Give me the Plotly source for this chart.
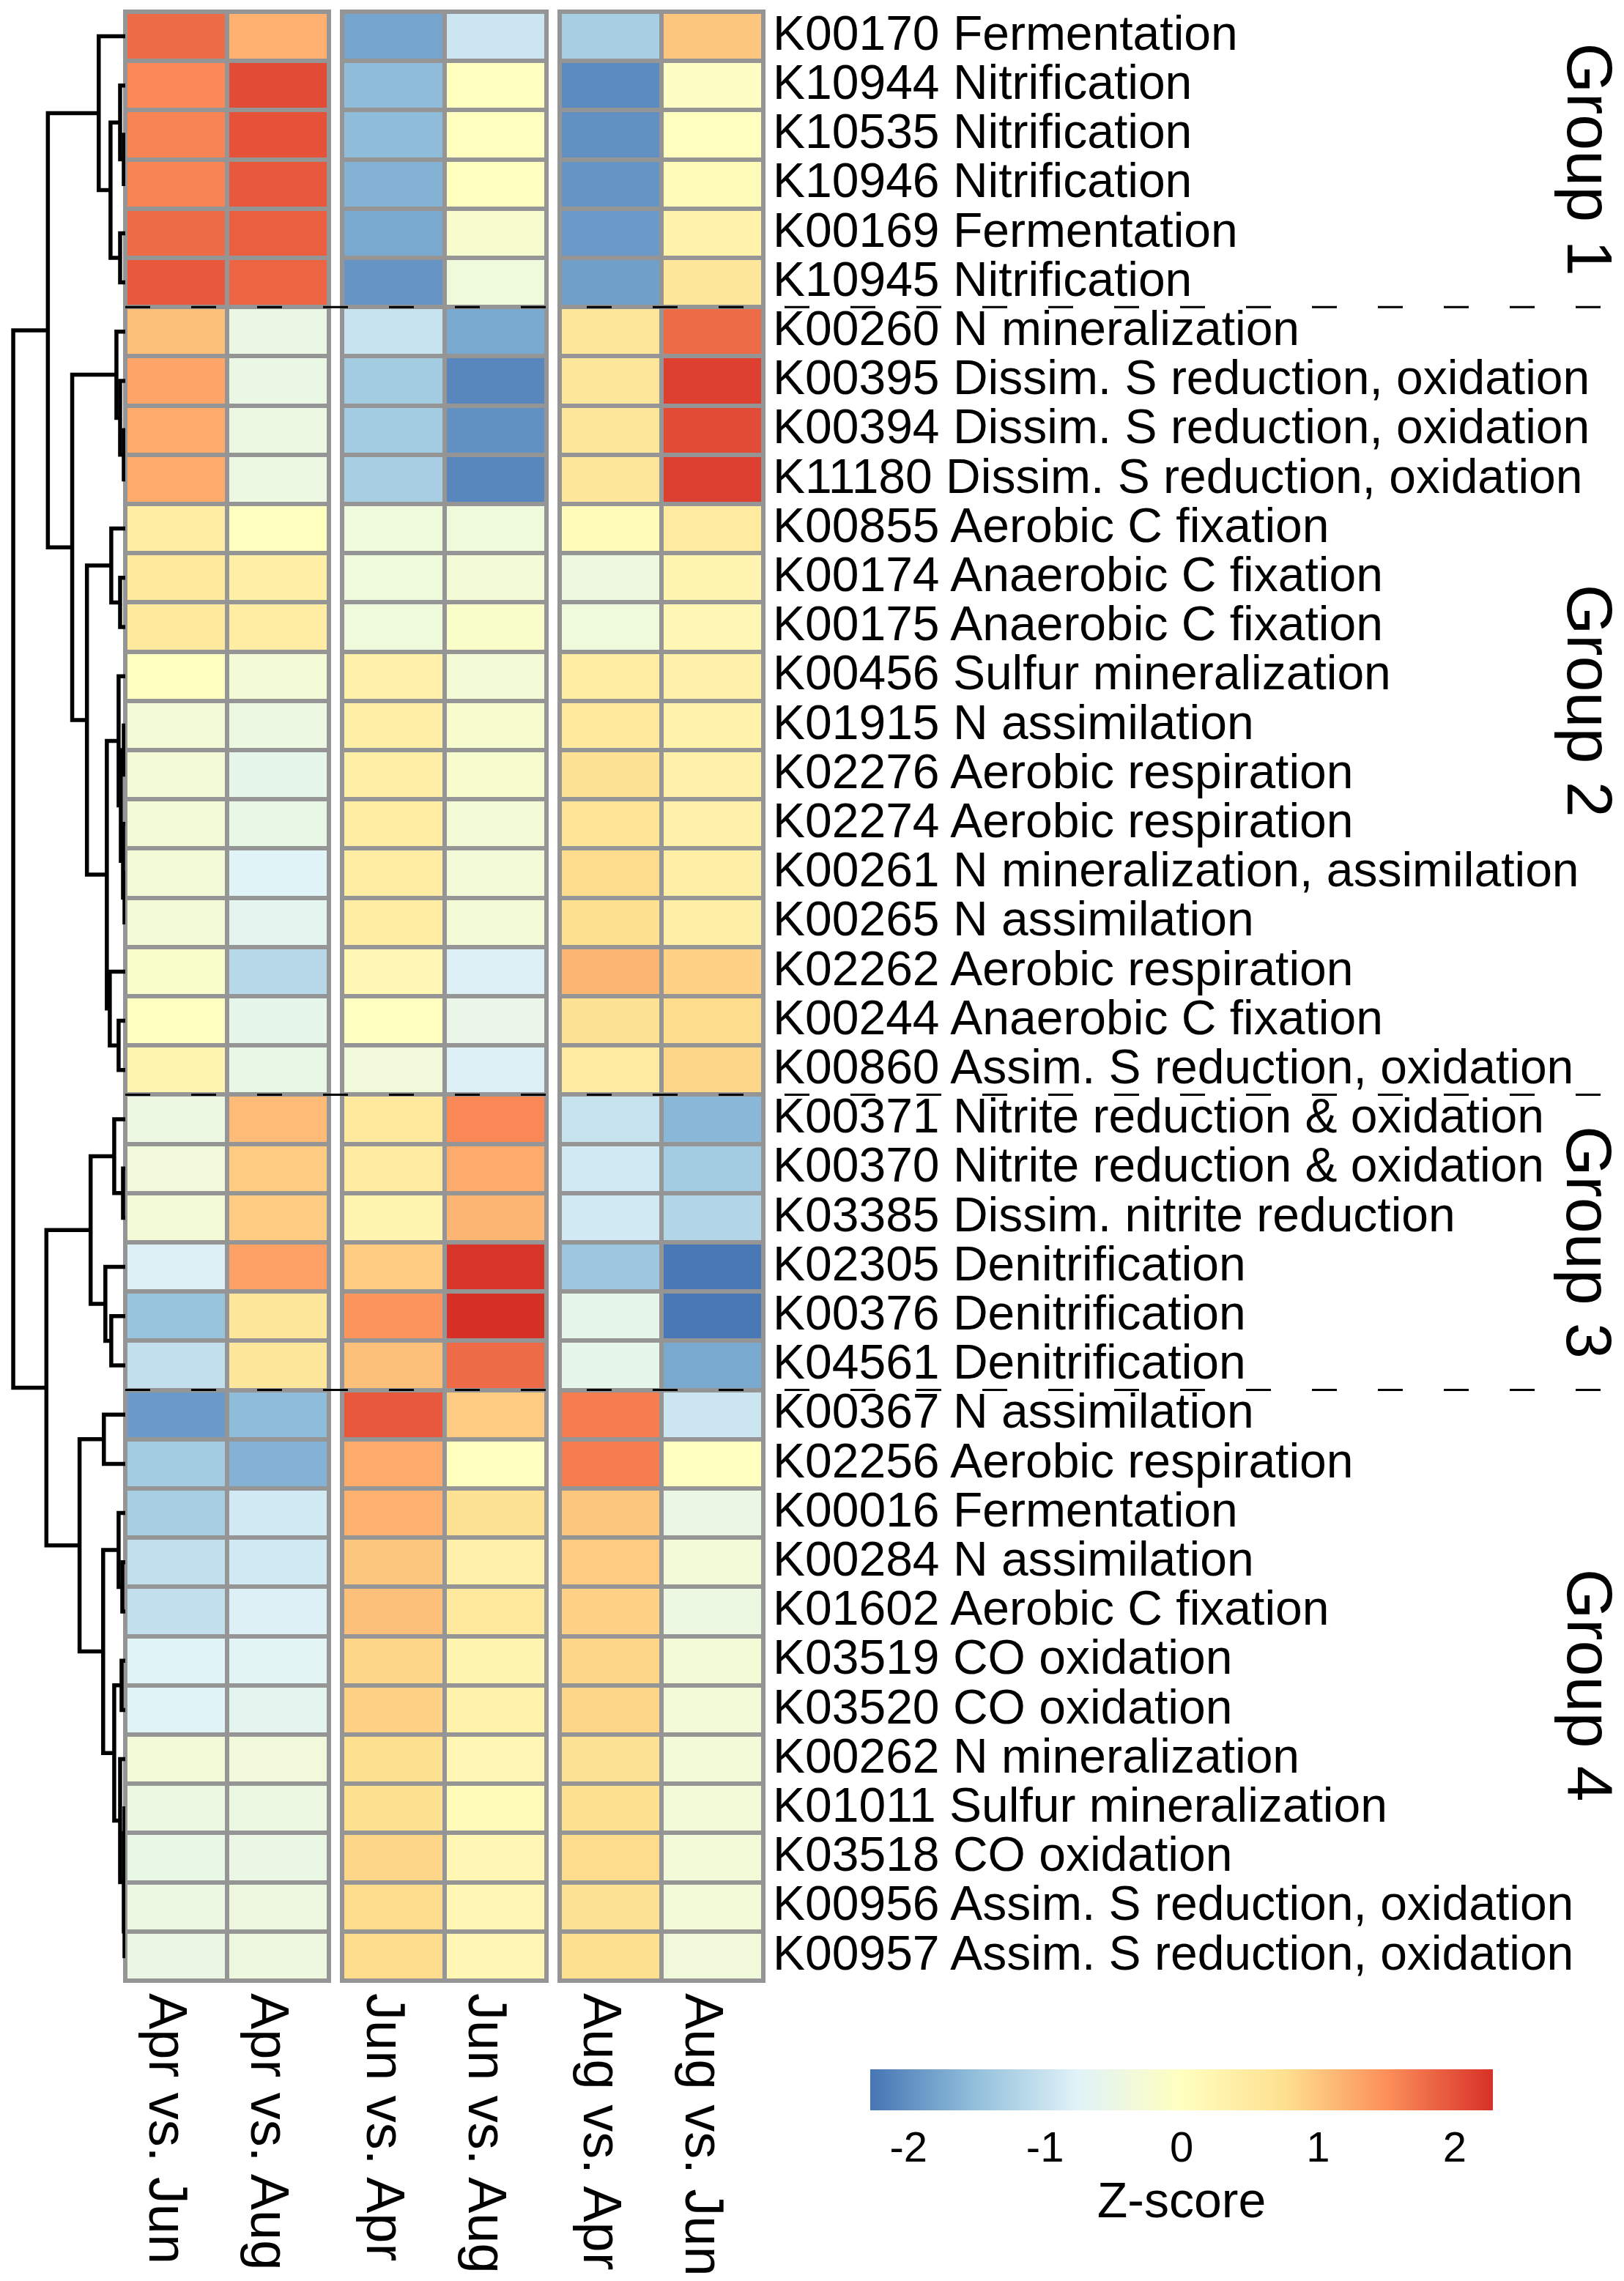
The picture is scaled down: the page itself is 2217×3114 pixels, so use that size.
import plotly.graph_objects as go

# ---------------- data ----------------
row_labels = [
    "K00170 Fermentation", "K10944 Nitrification", "K10535 Nitrification",
    "K10946 Nitrification", "K00169 Fermentation", "K10945 Nitrification",
    "K00260 N mineralization", "K00395 Dissim. S reduction, oxidation",
    "K00394 Dissim. S reduction, oxidation", "K11180 Dissim. S reduction, oxidation",
    "K00855 Aerobic C fixation", "K00174 Anaerobic C fixation",
    "K00175 Anaerobic C fixation", "K00456 Sulfur mineralization",
    "K01915 N assimilation", "K02276 Aerobic respiration", "K02274 Aerobic respiration",
    "K00261 N mineralization, assimilation", "K00265 N assimilation",
    "K02262 Aerobic respiration", "K00244 Anaerobic C fixation",
    "K00860 Assim. S reduction, oxidation",
    "K00371 Nitrite reduction & oxidation", "K00370 Nitrite reduction & oxidation",
    "K03385 Dissim. nitrite reduction", "K02305 Denitrification",
    "K00376 Denitrification", "K04561 Denitrification",
    "K00367 N assimilation", "K02256 Aerobic respiration", "K00016 Fermentation",
    "K00284 N assimilation", "K01602 Aerobic C fixation", "K03519 CO oxidation",
    "K03520 CO oxidation", "K00262 N mineralization", "K01011 Sulfur mineralization",
    "K03518 CO oxidation", "K00956 Assim. S reduction, oxidation",
    "K00957 Assim. S reduction, oxidation",
]

col_labels = ["Apr vs. Jun", "Apr vs. Aug", "Jun vs. Apr",
              "Jun vs. Aug", "Aug vs. Apr", "Aug vs. Jun"]

apr_vs_jun = [1.8, 1.55, 1.6, 1.6, 1.8, 1.95,
              1.05, 1.3, 1.25, 1.25, 0.45, 0.55, 0.55, 0.0, -0.3, -0.3, -0.3, -0.3, -0.3, -0.15, 0.0, 0.25,
              -0.47, -0.36, -0.3, -0.8, -1.45, -1.05,
              -1.9, -1.35, -1.3, -1.05, -1.05, -0.75, -0.75, -0.33, -0.47, -0.53, -0.47, -0.5]
apr_vs_aug = [1.2, 2.05, 2.0, 1.95, 1.9, 1.85,
              -0.5, -0.5, -0.47, -0.47, 0.0, 0.4, 0.45, -0.3, -0.47, -0.58, -0.53, -0.75, -0.65, -1.15, -0.58, -0.53,
              1.1, 0.95, 0.95, 1.35, 0.6, 0.6,
              -1.55, -1.65, -0.9, -0.9, -0.8, -0.7, -0.65, -0.36, -0.47, -0.5, -0.43, -0.43]
jun_vs_apr = [-1.8, -1.55, -1.55, -1.65, -1.75, -1.95,
              -1.0, -1.35, -1.35, -1.3, -0.39, -0.39, -0.39, 0.35, 0.4, 0.4, 0.45, 0.45, 0.45, 0.2, 0.0, -0.36,
              0.55, 0.5, 0.25, 0.95, 1.45, 1.05,
              1.95, 1.25, 1.2, 1.0, 1.05, 0.85, 0.9, 0.75, 0.75, 0.85, 0.8, 0.8]
jun_vs_aug = [-0.95, 0.0, 0.0, 0.0, -0.2, -0.39,
              -1.75, -2.1, -2.0, -2.1, -0.39, -0.3, -0.15, -0.3, -0.2, -0.2, -0.3, -0.33, -0.3, -0.8, -0.55, -0.8,
              1.55, 1.25, 1.15, 2.25, 2.28, 1.8,
              0.95, 0.0, 0.7, 0.35, 0.55, 0.25, 0.3, 0.2, 0.08, 0.2, 0.2, 0.2]
aug_vs_apr = [-1.3, -2.05, -2.0, -1.95, -1.9, -1.85,
              0.6, 0.6, 0.6, 0.6, 0.08, -0.43, -0.39, 0.45, 0.55, 0.7, 0.65, 0.8, 0.75, 1.15, 0.7, 0.5,
              -1.0, -0.9, -0.9, -1.4, -0.58, -0.58,
              1.65, 1.65, 1.0, 0.95, 0.9, 0.85, 0.85, 0.7, 0.75, 0.8, 0.7, 0.75]
aug_vs_jun = [1.0, -0.05, 0.0, 0.08, 0.3, 0.6,
              1.8, 2.15, 2.05, 2.15, 0.5, 0.25, 0.2, 0.35, 0.3, 0.35, 0.35, 0.4, 0.4, 0.9, 0.8, 0.85,
              -1.6, -1.35, -1.2, -2.25, -2.25, -1.75,
              -0.95, 0.0, -0.5, -0.33, -0.47, -0.3, -0.33, -0.33, -0.33, -0.33, -0.33, -0.36]

group_names = ["Group 1", "Group 2", "Group 3", "Group 4"]
group_sizes = [6, 16, 6, 12]

colorbar_ticks = [-2, -1, 0, 1, 2]
colorbar_ticktext = ["-2", "-1", "0", "1", "2"]
z_limit = 2.28
palette = ["#4575B4", "#91BFDB", "#E0F3F8", "#FFFFBF", "#FEE090", "#FC8D59", "#D73027"]

# row dendrogram: (merge height, left, right); ints are row indices
tree_group1 = (36, 0, (20, (7, 1, (2, 2, 3)), (7, 4, 5)))
tree_group2 = (72, (12, 6, (7, 7, (2, 8, 9))),
               (52, (19, 10, (7, 11, 12)),
                (25, (9, 13, (6, (2, 14, 15), (3, 16, (1, 17, 18)))),
                 (21, 19, (9, 20, 21)))))
tree_group3 = (47, (15, 22, (3, 23, 24)), (27, 25, (19, 26, 27)))
tree_group4 = (62, (29, 28, 29),
               (30, (9, 30, (4, 31, 32)),
                (15, (5, 33, 34), (7, 35, (2, (1, 36, 37), (1, 38, 39))))))
root_heights = [105, 107, 152]

# ---------------- layout constants ----------------
W, H = 2217, 3114
FONT = "Liberation Sans, Arial, Helvetica, sans-serif"
panel_px = [(163, 441), (459, 738), (756, 1034)]
top_px, bot_px = 8, 2696
grey = "#959595"


def fx(px):
    return px / W


def fy(py):
    return 1 - py / H


n = len(row_labels)
rows = list(range(n))
panels = [(apr_vs_jun, apr_vs_aug), (jun_vs_apr, jun_vs_aug), (aug_vs_apr, aug_vs_jun)]

fig = go.Figure()

for p, (ca, cb) in enumerate(panels):
    xa = "x" if p == 0 else "x%d" % (p + 1)
    fig.add_trace(go.Heatmap(
        z=[[ca[i], cb[i]] for i in rows], x=[0, 1], y=rows,
        coloraxis="coloraxis", xgap=6, ygap=6,
        xaxis=xa, yaxis="y", hoverinfo="skip"))

# dendrogram
root = (root_heights[2], (root_heights[0], tree_group1, tree_group2),
        (root_heights[1], tree_group3, tree_group4))
dx, dy = [], []


def walk(node):
    if isinstance(node, int):
        return float(node), 0.0
    h, a, b = node
    ya, ha = walk(a)
    yb, hb = walk(b)
    dx.extend([ha, h, h, hb, None])
    dy.extend([ya, ya, yb, yb, None])
    return (ya + yb) / 2, h


walk(root)
fig.add_trace(go.Scatter(x=dx, y=dy, mode="lines", xaxis="x4", yaxis="y",
                         line=dict(color="black", width=5.5), hoverinfo="skip",
                         showlegend=False))

shapes = []
for p, (l, r) in enumerate(panel_px):
    xr = "x domain" if p == 0 else "x%d domain" % (p + 1)
    shapes.append(dict(type="rect", xref=xr, yref="y domain", x0=0, x1=1, y0=0, y1=1,
                       fillcolor=grey, line=dict(color=grey, width=6), layer="below"))

cum = 0
for s in group_sizes[:-1]:
    cum += s
    shapes.append(dict(type="line", xref="paper", yref="y", x0=fx(163), x1=fx(2178),
                       y0=cum - 0.5, y1=cum - 0.5,
                       line=dict(color="black", width=3, dash="34px,56px"), layer="above"))

annotations = []
start = 0
for g, s in zip(group_names, group_sizes):
    annotations.append(dict(text=g, xref="paper", yref="y", x=fx(2162),
                            y=start + (s - 1) / 2, showarrow=False, textangle=90,
                            xanchor="center", yanchor="middle",
                            font=dict(family=FONT, size=88, color="black")))
    start += s

layout = dict(
    width=W, height=H, margin=dict(l=0, r=0, t=0, b=0),
    paper_bgcolor="white", plot_bgcolor="white", showlegend=False,
    font=dict(family=FONT, color="black"),
    shapes=shapes, annotations=annotations,
    coloraxis=dict(
        cmin=-z_limit, cmax=z_limit,
        colorscale=[[i / (len(palette) - 1), c] for i, c in enumerate(palette)],
        colorbar=dict(orientation="h", x=fx(1605), xanchor="center",
                      y=fy(2817), yanchor="top", len=850, lenmode="pixels",
                      thickness=56, outlinewidth=0, xpad=0, ypad=0,
                      tickvals=colorbar_ticks, ticktext=colorbar_ticktext, ticks="",
                      tickfont=dict(family=FONT, size=58, color="black"),
                      title=dict(text="Z-score", side="bottom",
                                 font=dict(family=FONT, size=68, color="black")))),
    yaxis=dict(domain=[fy(bot_px), fy(top_px)], range=[n - 0.5, -0.5], anchor="x3",
               side="right", tickvals=rows, ticktext=row_labels, ticks="",
               showgrid=False, zeroline=False, showline=False, automargin=False,
               ticklabelstandoff=12, ticklabelshift=5, ticklabeloverflow="allow",
               tickfont=dict(family=FONT, size=66, color="black")),
    xaxis4=dict(domain=[0, fx(163)], range=[162, 0], anchor="y", visible=False,
                showgrid=False, zeroline=False),
)
for p, (l, r) in enumerate(panel_px):
    key = "xaxis" if p == 0 else "xaxis%d" % (p + 1)
    layout[key] = dict(domain=[fx(l), fx(r)], range=[-0.5, 1.5], anchor="y",
                       tickvals=[0, 1], ticktext=col_labels[2 * p:2 * p + 2],
                       tickangle=90, ticks="", showgrid=False, zeroline=False,
                       showline=False, automargin=False, ticklabelstandoff=16,
                       ticklabelshift=-12, ticklabeloverflow="allow",
                       tickfont=dict(family=FONT, size=74, color="black"))

fig.update_layout(**layout)
fig.write_html("out.html")
